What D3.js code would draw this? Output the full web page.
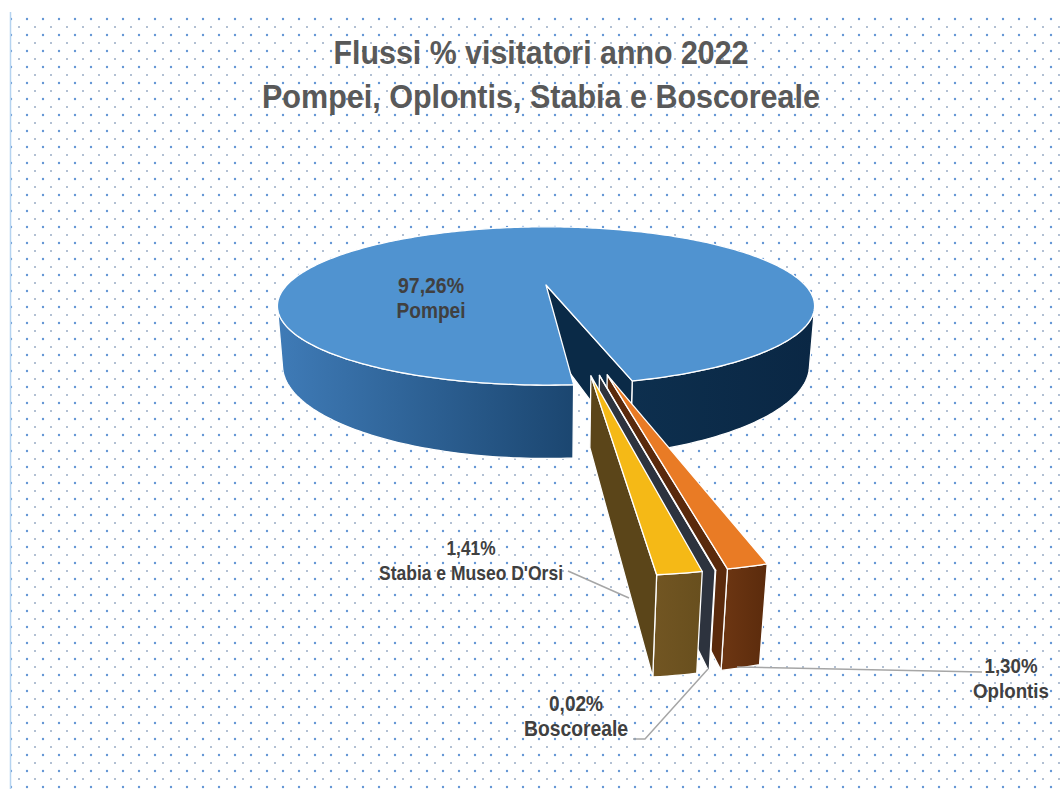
<!DOCTYPE html>
<html>
<head>
<meta charset="utf-8" />
<script src="https://d3js.org/d3.v7.min.js"></script>
<style>
  body { margin: 0; background: #fff; }
  text { font-family: "Liberation Sans Narrow", "Arial Narrow", "Liberation Sans", sans-serif; font-weight: bold; }
</style>
</head>
<body>
<svg id="viz"></svg>
<script>
// data
var categories = ["Pompei", "Oplontis", "Boscoreale", "Stabia e Museo D'Orsi"];
var shares = [97.26, 1.30, 0.02, 1.41];
var shareLabels = ["97,26%", "1,30%", "0,02%", "1,41%"];
var exploded = [false, true, true, true];
var titleLines = ["Flussi % visitatori anno 2022", "Pompei, Oplontis, Stabia e Boscoreale"];

// styles
var topColors = ["#5093d0", "#e97b25", "#7f7f7f", "#f5b916"];
var faceColors = ["#0a2a47", "#5a2a0c", "#2d333e", "#5b4519"];
var wallLit = [["#3f7bb7", "#1b4670"], ["#7a3c14", "#5e2d0d"], ["#555", "#333"], ["#77592a", "#6a501e"]];
var wallDark = [["#0d2f4e", "#0a2744"], ["#6b3512", "#5b2b0c"], ["#3a3f48", "#2d333e"], ["#715522", "#684f1e"]];

// label layout: [x, baseline of first line], font size, [width line 1, width line 2], leader polyline
var labelPos = [[431, 293], [1011, 673], [576, 711], [471, 555]];
var labelSize = [22, 21, 22, 21];
var labelWidth = [[66, 69], [53, 76], [54, 104], [49, 184]];
var leaders = [null, [[737, 667], [982, 672]], [[633, 739], [645, 739], [708, 669]], [[568, 571], [629, 598]]];
var titleWidth = [415, 558];

var width = 1060, height = 789;
var svg = d3.select("#viz").attr("width", width).attr("height", height);
var defs = svg.append("defs");

// dotted background
var pat = defs.append("pattern").attr("id", "dots")
    .attr("patternUnits", "userSpaceOnUse")
    .attr("x", 11).attr("y", 11).attr("width", 16).attr("height", 16);
[[0, 8], [16, 8]].forEach(function(p) {
  pat.append("circle").attr("cx", p[0]).attr("cy", p[1]).attr("r", 1.2).attr("fill", "#6396d4");
});
[[8, 0], [8, 16]].forEach(function(p) {
  pat.append("circle").attr("cx", p[0]).attr("cy", p[1]).attr("r", 1).attr("fill", "#98abc4");
});
svg.append("rect").attr("x", 10).attr("y", 12).attr("width", width).attr("height", height)
    .attr("fill", "url(#dots)");
svg.append("line").attr("x1", 10.5).attr("x2", 10.5).attr("y1", 12).attr("y2", height)
    .attr("stroke", "#b5d3f0").attr("stroke-width", 1.5);

// title
svg.selectAll(".title").data(titleLines).enter().append("text")
    .attr("class", "title")
    .attr("x", 541)
    .attr("y", function(d, i) { return i === 0 ? 64 : 108; })
    .attr("text-anchor", "middle")
    .attr("font-size", 33)
    .attr("textLength", function(d, i) { return titleWidth[i]; })
    .attr("lengthAdjust", "spacingAndGlyphs")
    .attr("fill", "#595959")
    .text(function(d) { return d; });

// 3d projection
var view = {cx: 546, cy: 285, f: 259, dist: 3.62, tilt: 16.5, depth: 0.23, explode: 0.94, spread: 0.6};
var tilt = view.tilt * Math.PI / 180, ce = Math.cos(tilt), se = Math.sin(tilt);
var cam = [0, -view.dist * ce, view.dist * se];

function project(p) {
  var d = view.dist + p[1] * ce - p[2] * se;
  var k = view.f * view.dist / d;
  return [view.cx + k * p[0], view.cy - k * (p[1] * se + p[2] * ce)];
}
function facing(p, n) {
  return (cam[0] - p[0]) * n[0] + (cam[1] - p[1]) * n[1] + (cam[2] - p[2]) * n[2] > 0;
}
var line = d3.line();
function poly(pts) { return line(pts.map(project)) + "Z"; }

var rad = Math.PI / 180;
var pie = d3.pie().sort(null).startAngle(175.5 * rad).endAngle(535.5 * rad);
var arcs = pie(shares);

// explode direction: between each slice's own bisector and the exploded group's bisector
var exArcs = arcs.filter(function(a, i) { return exploded[i]; });
var groupMid = (d3.min(exArcs, function(a) { return a.startAngle; }) +
                d3.max(exArcs, function(a) { return a.endAngle; })) / 2;

var slices = arcs.map(function(a, i) {
  var mid = (a.startAngle + a.endAngle) / 2;
  var dir = groupMid + view.spread * (mid - groupMid);
  var e = exploded[i] ? view.explode : 0;
  return {i: i, a0: a.startAngle, a1: a.endAngle, off: [e * Math.sin(dir), e * Math.cos(dir)]};
});

// pompei first, then exploded pieces from the outside in
var order = slices.slice().sort(function(a, b) {
  if (a.i === 0) return -1;
  if (b.i === 0) return 1;
  return Math.abs(b.off[0]) - Math.abs(a.off[0]);
});

var g = svg.append("g");
var h = view.depth;

order.forEach(function(s) {
  var i = s.i;
  function pt(r, a, z) { return [s.off[0] + r * Math.sin(a), s.off[1] + r * Math.cos(a), z]; }
  var n = Math.max(2, Math.ceil((s.a1 - s.a0) / rad));
  var angles = d3.range(n + 1).map(function(k) { return s.a0 + (s.a1 - s.a0) * k / n; });

  // outer wall runs
  var runs = [], cur = null;
  for (var k = 0; k < n; k++) {
    var m = (angles[k] + angles[k + 1]) / 2;
    var vis = facing(pt(1, m, 0), [Math.sin(m), Math.cos(m), 0]);
    if (vis) {
      if (!cur) { cur = [angles[k]]; runs.push(cur); }
      cur.push(angles[k + 1]);
    } else cur = null;
  }
  runs.forEach(function(run, j) {
    var top = run.map(function(a) { return pt(1, a, 0); });
    var bot = run.map(function(a) { return pt(1, a, -h); }).reverse();
    var xs = top.map(function(p) { return project(p)[0]; });
    var mean = ((run[0] + run[run.length - 1]) / 2) % (2 * Math.PI);
    var cols = mean > Math.PI ? wallLit[i] : wallDark[i];
    var id = "wall" + i + "_" + j;
    var grad = defs.append("linearGradient").attr("id", id)
        .attr("gradientUnits", "userSpaceOnUse")
        .attr("x1", d3.min(xs)).attr("x2", d3.max(xs)).attr("y1", 0).attr("y2", 0);
    grad.append("stop").attr("offset", 0).attr("stop-color", cols[0]);
    grad.append("stop").attr("offset", 1).attr("stop-color", cols[1]);
    g.append("path").attr("d", poly(top.concat(bot)))
        .attr("fill", "url(#" + id + ")")
        .attr("stroke", "#fff").attr("stroke-width", 1.3).attr("stroke-linejoin", "round");
  });

  // radial faces
  [[s.a0, [-Math.cos(s.a0), Math.sin(s.a0), 0]], [s.a1, [Math.cos(s.a1), -Math.sin(s.a1), 0]]].forEach(function(f) {
    if (!facing(pt(0.5, f[0], 0), f[1])) return;
    var pts = [pt(0, 0, 0), pt(1, f[0], 0), pt(1, f[0], -h), pt(0, 0, -h)];
    g.append("path").attr("d", poly(pts))
        .attr("fill", faceColors[i])
        .attr("stroke", "#fff").attr("stroke-width", 1.3).attr("stroke-linejoin", "round");
  });

  // top face
  var topPts = [pt(0, 0, 0)].concat(angles.map(function(a) { return pt(1, a, 0); }));
  g.append("path").attr("d", poly(topPts))
      .attr("fill", topColors[i])
      .attr("stroke", "#fff").attr("stroke-width", 1.3).attr("stroke-linejoin", "round");
});

// leader lines
leaders.forEach(function(l) {
  if (!l) return;
  svg.append("polyline").attr("points", l.map(function(p) { return p.join(","); }).join(" "))
      .attr("fill", "none").attr("stroke", "#a6a6a6").attr("stroke-width", 1.5);
});

// data labels
categories.forEach(function(c, i) {
  [shareLabels[i], c].forEach(function(txt, j) {
    svg.append("text")
        .attr("x", labelPos[i][0]).attr("y", labelPos[i][1] + j * 25)
        .attr("text-anchor", "middle")
        .attr("font-size", labelSize[i])
        .attr("textLength", labelWidth[i][j])
        .attr("lengthAdjust", "spacingAndGlyphs")
        .attr("fill", "#404040")
        .text(txt);
  });
});
</script>
</body>
</html>
